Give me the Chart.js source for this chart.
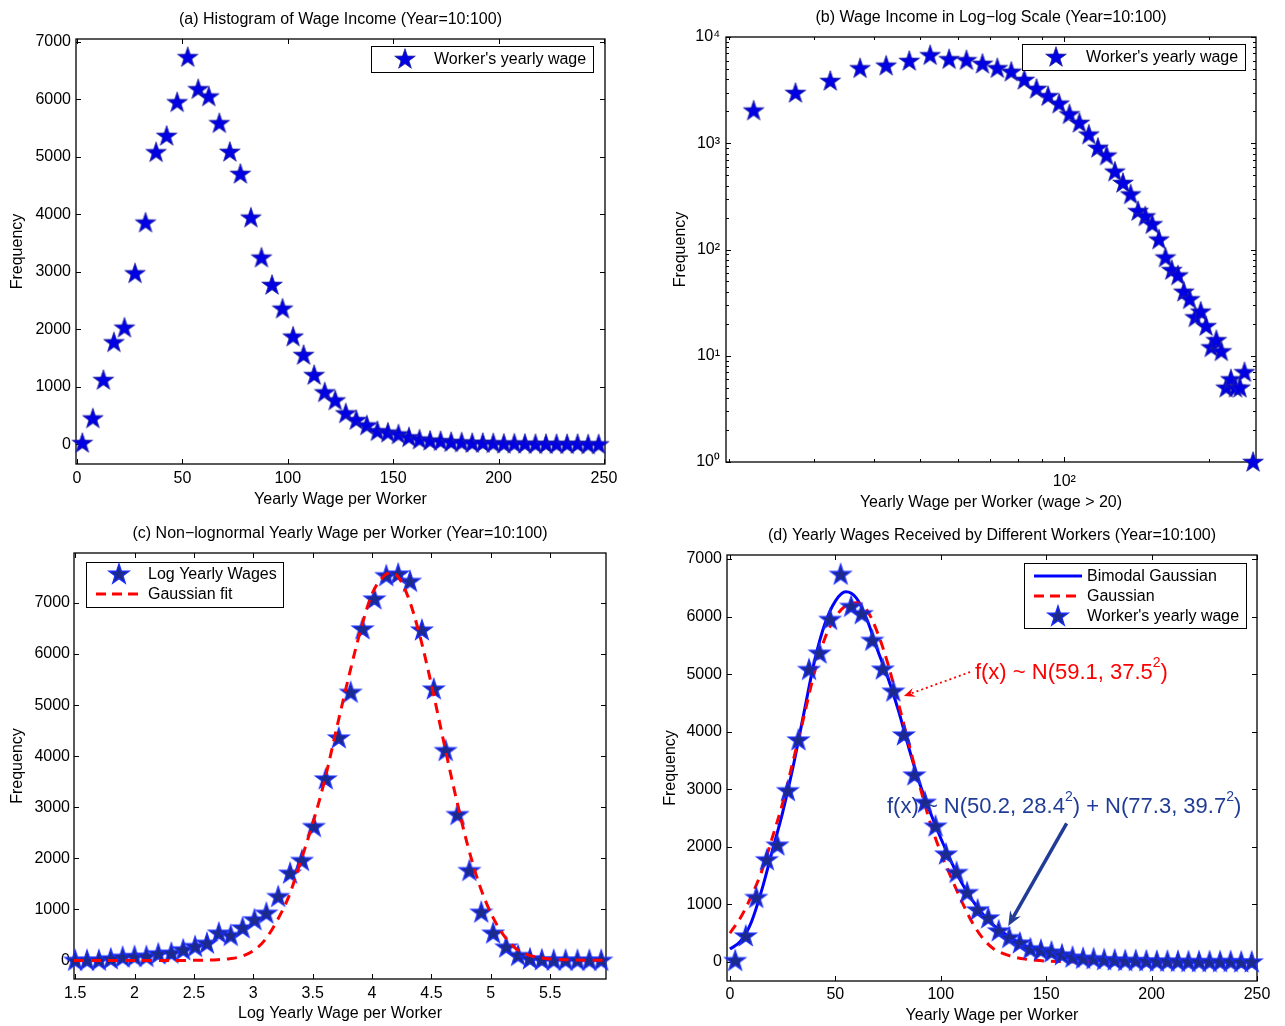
<!DOCTYPE html>
<html>
<head>
<meta charset="utf-8">
<title>Wage income</title>
<script src="https://cdn.jsdelivr.net/npm/chart.js@4.4.1/dist/chart.umd.min.js"></script>
<style>
  body { margin: 0; background: #fff; }
  #page { position: relative; width: 1285px; height: 1026px; overflow: hidden; }
  canvas { position: absolute; }
</style>
</head>
<body>
<div id="page">
  <canvas id="ca" width="640" height="515" style="left:0;top:0"></canvas>
  <canvas id="cb" width="645" height="515" style="left:640px;top:0"></canvas>
  <canvas id="cc" width="640" height="511" style="left:0;top:515px"></canvas>
  <canvas id="cd" width="645" height="511" style="left:640px;top:515px"></canvas>
</div>
<script>
// yearly wage histogram (bin centres), used in (a), (b) and (d)
const wageBins = [2.5, 7.5, 12.5, 17.5, 22.5, 27.5, 32.5, 37.5, 42.5, 47.5,
  52.5, 57.5, 62.5, 67.5, 72.5, 77.5, 82.5, 87.5, 92.5, 97.5,
  102.5, 107.5, 112.5, 117.5, 122.5, 127.5, 132.5, 137.5, 142.5, 147.5,
  152.5, 157.5, 162.5, 167.5, 172.5, 177.5, 182.5, 187.5, 192.5, 197.5,
  202.5, 207.5, 212.5, 217.5, 222.5, 227.5, 232.5, 237.5, 242.5, 247.5];
const wageCount = [25, 452, 1120, 1775, 2030, 2975, 3857, 5080, 5365, 5950,
  6734, 6177, 6050, 5586, 5087, 4704, 3944, 3248, 2773, 2360,
  1874, 1555, 1206, 905, 765, 540, 423, 330, 230, 205,
  173, 124, 84, 64, 57, 40, 34, 23, 26, 19,
  12, 14, 11, 5, 6, 5, 5, 7, 0, 1];

// log wage histogram for (c)
const logBins = [1.50, 1.60, 1.70, 1.80, 1.90, 2.00, 2.10, 2.20, 2.31, 2.41,
  2.51, 2.61, 2.71, 2.81, 2.91, 3.01, 3.11, 3.21, 3.31, 3.41,
  3.51, 3.61, 3.72, 3.82, 3.92, 4.02, 4.12, 4.22, 4.32, 4.42,
  4.52, 4.62, 4.72, 4.82, 4.92, 5.02, 5.13, 5.23, 5.33, 5.43,
  5.53, 5.63, 5.73, 5.83, 5.93];
const logCount = [3, 3, 5, 33, 65, 78, 78, 130, 143, 209,
  274, 339, 535, 489, 639, 796, 926, 1252, 1709, 1957,
  2622, 3555, 4357, 5251, 6491, 7078, 7534, 7567, 7423, 6471,
  5316, 4110, 2857, 1761, 946, 535, 261, 98, 33, 13,
  5, 5, 3, 3, 3];

// gaussian fit in (c)
const logFitX = [1.49, 2.0, 2.5, 2.7, 2.8, 2.9, 3.0, 3.1, 3.2, 3.3,
  3.4, 3.5, 3.6, 3.7, 3.8, 3.9, 4.0, 4.1, 4.15, 4.2,
  4.3, 4.4, 4.5, 4.6, 4.7, 4.8, 4.9, 5.0, 5.1, 5.2,
  5.3, 5.4, 5.5, 5.7, 5.97];
const logFitY = [0, 0, 3, 15, 35, 80, 190, 410, 780, 1260,
  1950, 2680, 3520, 4530, 5520, 6440, 7180, 7530, 7590, 7560,
  7140, 6380, 5400, 4320, 3260, 2300, 1510, 930, 520, 255,
  120, 60, 30, 10, 3];

// fitted curves in (d)
const fitX = [0, 5, 10, 15, 20, 25, 30, 35, 40, 45, 50, 55, 60, 65, 70, 75, 80, 85, 90, 95,
  100, 105, 110, 115, 120, 125, 130, 135, 140, 145, 150, 155, 160, 165, 170, 175, 180, 185, 190, 195,
  200, 205, 210, 215, 220, 225, 230, 235, 240, 245, 250];
const bimodalY = [225, 360, 680, 1240, 1920, 2600, 3400, 4310, 5210, 5870, 6270, 6430, 6320, 5950, 5420, 4930, 4360, 3700, 3100, 2600,
  2150, 1740, 1370, 1070, 830, 640, 500, 380, 285, 210, 150, 105, 75, 50, 35, 24, 16, 11, 7, 5,
  3, 2, 1, 1, 0, 0, 0, 0, 0, 0, 0];
const gaussY = [500, 770, 1130, 1570, 2150, 2760, 3500, 4250, 5020, 5620, 5990, 6190, 6240, 6110, 5720, 5170, 4480, 3770, 3060, 2420,
  1900, 1460, 1050, 680, 410, 230, 140, 85, 50, 30, 17, 9, 4, 2, 1, 0, 0, 0, 0, 0,
  0, 0, 0, 0, 0, 0, 0, 0, 0, 0, 0];

// ticks
const wageTicks = [0, 50, 100, 150, 200, 250];
const freqTicks = [0, 1000, 2000, 3000, 4000, 5000, 6000, 7000];
const logWageTicks = [1.5, 2, 2.5, 3, 3.5, 4, 4.5, 5, 5.5];
const decadeTicks = [1, 10, 100, 1000, 10000];
const decadeMinor = [2, 3, 4, 5, 6, 7, 8, 9, 20, 30, 40, 50, 60, 70, 80, 90,
  200, 300, 400, 500, 600, 700, 800, 900, 2000, 3000, 4000, 5000, 6000, 7000, 8000, 9000];
const wageLogTicks = [100];
const wageLogMinor = [20, 30, 40, 50, 60, 70, 80, 90, 200];

const FONT = "'Liberation Sans', Arial, Helvetica, sans-serif";
Chart.defaults.font.family = FONT;
Chart.defaults.font.size = 16;
Chart.defaults.color = '#000';

const sup = ['\u2070', '\u00b9', '\u00b2', '\u00b3', '\u2074'];

function starMarker(fill, edge, lw) {
  const c = document.createElement('canvas');
  c.width = 26; c.height = 26;
  const g = c.getContext('2d');
  g.beginPath();
  for (let i = 0; i < 10; i++) {
    const r = i % 2 ? 4.2 : 10.8;
    const a = -Math.PI / 2 + i * Math.PI / 5;
    g.lineTo(13 + r * Math.cos(a), 13.5 + r * Math.sin(a));
  }
  g.closePath();
  g.fillStyle = fill; g.fill();
  g.lineWidth = lw; g.strokeStyle = edge; g.stroke();
  return c;
}
const starAB = starMarker('#0000e2', '#23239a', 0.8);
const starCD = starMarker('#1b2a8c', '#1a2cff', 1.2);

function pts(xs, ys) { return xs.map((x, i) => ({ x, y: ys[i] })); }

function axis(pos, min, max, ticks, size, pad, title, titlePad, type) {
  const horiz = pos === 'bottom';
  const log = type === 'logarithmic';
  return {
    type: type || 'linear', position: pos, min, max,
    grid: { display: false, drawTicks: false }, border: { display: false },
    afterBuildTicks: s => { s.ticks = ticks.map(v => ({ value: v })); },
    afterFit: s => { if (horiz) s.height = size; else s.width = size; },
    ticks: {
      padding: pad, maxRotation: 0, autoSkip: false,
      callback: log ? v => '10' + sup[Math.round(Math.log10(v))] : v => String(v)
    },
    title: { display: true, text: title, padding: horiz ? { top: 0, bottom: titlePad } : { top: titlePad, bottom: 0 } }
  };
}

function drawRich(ctx, parts, x, y, size, color) {
  let cx = x;
  ctx.fillStyle = color;
  ctx.textAlign = 'left';
  ctx.textBaseline = 'middle';
  parts.forEach(p => {
    const up = p[1];
    ctx.font = (up ? Math.round(size * 0.65) : size) + 'px ' + FONT;
    ctx.fillText(p[0], cx, up ? y - size * 0.45 : y);
    cx += ctx.measureText(p[0]).width;
  });
}

function drawArrow(ctx, x1, y1, x2, y2, color, width, dash, head) {
  const ang = Math.atan2(y2 - y1, x2 - x1);
  ctx.save();
  ctx.strokeStyle = color; ctx.fillStyle = color;
  ctx.lineWidth = width;
  ctx.setLineDash(dash || []);
  ctx.beginPath();
  ctx.moveTo(x1, y1);
  ctx.lineTo(x2 - Math.cos(ang) * head * 0.6, y2 - Math.sin(ang) * head * 0.6);
  ctx.stroke();
  ctx.setLineDash([]);
  ctx.beginPath();
  ctx.moveTo(x2, y2);
  ctx.lineTo(x2 - head * Math.cos(ang - 0.4), y2 - head * Math.sin(ang - 0.4));
  ctx.lineTo(x2 - head * 0.6 * Math.cos(ang), y2 - head * 0.6 * Math.sin(ang));
  ctx.lineTo(x2 - head * Math.cos(ang + 0.4), y2 - head * Math.sin(ang + 0.4));
  ctx.closePath();
  ctx.fill();
  ctx.restore();
}

// matlab style box, inward ticks, title, legend and notes
const matlabAxes = {
  id: 'matlabAxes',
  beforeDatasetsDraw(chart, args, opt) {
    const { ctx, chartArea: a } = chart;
    const xs = chart.scales.x, ys = chart.scales.y;
    ctx.save();
    ctx.strokeStyle = '#000';
    ctx.lineWidth = 1;
    ctx.beginPath();
    const tickX = (v, len) => {
      const p = Math.round(xs.getPixelForValue(v)) + 0.5;
      ctx.moveTo(p, a.bottom); ctx.lineTo(p, a.bottom - len);
      ctx.moveTo(p, a.top); ctx.lineTo(p, a.top + len);
    };
    const tickY = (v, len) => {
      const p = Math.round(ys.getPixelForValue(v)) + 0.5;
      ctx.moveTo(a.left, p); ctx.lineTo(a.left + len, p);
      ctx.moveTo(a.right, p); ctx.lineTo(a.right - len, p);
    };
    xs.ticks.forEach(t => tickX(t.value, 5));
    ys.ticks.forEach(t => tickY(t.value, 5));
    (opt.xMinor || []).forEach(v => { if (v > xs.min && v < xs.max) tickX(v, 3); });
    (opt.yMinor || []).forEach(v => { if (v > ys.min && v < ys.max) tickY(v, 3); });
    ctx.stroke();
    ctx.lineWidth = 1.3;
    ctx.strokeRect(a.left, a.top, a.right - a.left, a.bottom - a.top);
    ctx.restore();
  },
  afterDraw(chart, args, opt) {
    const { ctx, chartArea: a } = chart;
    const xs = chart.scales.x, ys = chart.scales.y;
    ctx.save();
    ctx.font = '16px ' + FONT;
    ctx.fillStyle = '#000';
    ctx.textAlign = 'center';
    ctx.textBaseline = 'middle';
    ctx.fillText(opt.title, (a.left + a.right) / 2, a.top - 19);

    (opt.notes || []).forEach(n => {
      drawRich(ctx, n.parts, xs.getPixelForValue(n.x), ys.getPixelForValue(n.y), 22, n.color);
      drawArrow(ctx, xs.getPixelForValue(n.from[0]), ys.getPixelForValue(n.from[1]),
        xs.getPixelForValue(n.to[0]), ys.getPixelForValue(n.to[1]), n.color, n.width, n.dash, n.head);
    });

    const lg = opt.legend;
    if (lg) {
      const [bx, by, bw, bh] = lg.box;
      ctx.fillStyle = '#fff';
      ctx.fillRect(bx, by, bw, bh);
      ctx.strokeStyle = '#000';
      ctx.lineWidth = 1;
      ctx.strokeRect(bx + 0.5, by + 0.5, bw, bh);
      lg.rows.forEach(r => {
        if (r.star) {
          ctx.drawImage(r.star, lg.markX - r.star.width / 2, r.y - r.star.height / 2);
        } else {
          ctx.save();
          ctx.strokeStyle = r.color; ctx.lineWidth = 3;
          ctx.setLineDash(r.dash || []);
          ctx.beginPath();
          ctx.moveTo(lg.lineX[0], r.y); ctx.lineTo(lg.lineX[1], r.y);
          ctx.stroke();
          ctx.restore();
        }
        ctx.font = '16px ' + FONT;
        ctx.fillStyle = '#000';
        ctx.textAlign = 'left';
        ctx.textBaseline = 'middle';
        ctx.fillText(r.text, lg.textX, r.y + 1);
      });
    }
    ctx.restore();
  }
};

function baseOptions(pad, plug, x, y) {
  return {
    responsive: false,
    animation: false,
    events: [],
    layout: { padding: pad },
    plugins: { legend: { display: false }, tooltip: { enabled: false }, matlabAxes: plug },
    scales: { x, y }
  };
}

const starSet = (data, img) => ({ data, pointStyle: img, pointRadius: 10, clip: false });

// (a) histogram
new Chart('ca', {
  type: 'scatter',
  data: { datasets: [starSet(pts(wageBins, wageCount), starAB)] },
  options: baseOptions({ top: 39, right: 35 },
    {
      title: '(a) Histogram of Wage Income (Year=10:100)',
      legend: { box: [371, 46, 222, 26], markX: 405, textX: 434,
        rows: [{ y: 59, star: starAB, text: "Worker's yearly wage" }] }
    },
    axis('bottom', -0.5, 250.5, wageTicks, 51, 5, 'Yearly Wage per Worker', 6),
    axis('left', -340, 7050, freqTicks, 76, 5, 'Frequency', 8)),
  plugins: [matlabAxes]
});

// (b) log-log, only wages above 20 with a non-zero count
const bX = [], bY = [];
wageBins.forEach((w, i) => { if (w > 20 && wageCount[i] > 0) { bX.push(w); bY.push(wageCount[i]); } });
new Chart('cb', {
  type: 'scatter',
  data: { datasets: [starSet(pts(bX, bY), starAB)] },
  options: baseOptions({ top: 37, right: 29 },
    {
      title: '(b) Wage Income in Log\u2212log Scale (Year=10:100)',
      xMinor: wageLogMinor, yMinor: decadeMinor,
      legend: { box: [382, 44, 223, 26], markX: 416, textX: 446,
        rows: [{ y: 57, star: starAB, text: "Worker's yearly wage" }] }
    },
    axis('bottom', 19.7, 251, wageLogTicks, 53, 10, 'Yearly Wage per Worker (wage > 20)', 3, 'logarithmic'),
    axis('left', 1, 10000, decadeTicks, 86, 6, 'Frequency', 31, 'logarithmic')),
  plugins: [matlabAxes]
});

// (c) log wages with gaussian fit
new Chart('cc', {
  type: 'scatter',
  data: {
    datasets: [
      { data: pts(logFitX, logFitY), showLine: true, borderColor: '#ff0000', borderWidth: 3,
        borderDash: [10, 7], pointRadius: 0, cubicInterpolationMode: 'monotone', clip: false },
      starSet(pts(logBins, logCount), starCD)
    ]
  },
  options: baseOptions({ top: 38, right: 34 },
    {
      title: '(c) Non\u2212lognormal Yearly Wage per Worker (Year=10:100)',
      legend: { box: [86, 47, 197, 45], markX: 119, lineX: [96, 142], textX: 148,
        rows: [{ y: 59, star: starCD, text: 'Log Yearly Wages' },
               { y: 79, color: '#ff0000', dash: [10, 6], text: 'Gaussian fit' }] }
    },
    axis('bottom', 1.49, 5.97, logWageTicks, 47, 5, 'Log Yearly Wage per Worker', 3),
    axis('left', -362, 7979, freqTicks, 74, 4, 'Frequency', 8)),
  plugins: [matlabAxes]
});

// (d) bimodal vs single gaussian
new Chart('cd', {
  type: 'scatter',
  data: {
    datasets: [
      starSet(pts(wageBins, wageCount), starCD),
      { data: pts(fitX, gaussY), showLine: true, borderColor: '#ff0000', borderWidth: 3,
        borderDash: [10, 7], pointRadius: 0, cubicInterpolationMode: 'monotone', clip: false },
      { data: pts(fitX, bimodalY), showLine: true, borderColor: '#0000ff', borderWidth: 3,
        pointRadius: 0, cubicInterpolationMode: 'monotone', clip: false }
    ]
  },
  options: baseOptions({ top: 40, right: 28 },
    {
      title: '(d) Yearly Wages Received by Different Workers (Year=10:100)',
      legend: { box: [384, 48, 222, 65], markX: 418, lineX: [394, 442], textX: 447,
        rows: [{ y: 61, color: '#0000ff', text: 'Bimodal Gaussian' },
               { y: 81, color: '#ff0000', dash: [10, 6], text: 'Gaussian' },
               { y: 101, star: starCD, text: "Worker's yearly wage" }] },
      notes: [
        { parts: [['f(x) ~ N(59.1, 37.5'], ['2', true], [')']], x: 116.2, y: 5020, color: '#ff0000',
          from: [113.9, 5037], to: [82.5, 4620], width: 1.8, dash: [2, 3], head: 12 },
        { parts: [['f(x) ~ N(50.2, 28.4'], ['2', true], [') + N(77.3, 39.7'], ['2', true], [')']], x: 74.5, y: 2692,
          color: '#203c96', from: [159.7, 2409], to: [132.0, 625], width: 3.5, head: 16 }
      ]
    },
    axis('bottom', -1.4, 250, wageTicks, 45, 4, 'Yearly Wage per Worker', 1),
    axis('left', -330, 7070, freqTicks, 87, 5, 'Frequency', 21)),
  plugins: [matlabAxes]
});
</script>
</body>
</html>
